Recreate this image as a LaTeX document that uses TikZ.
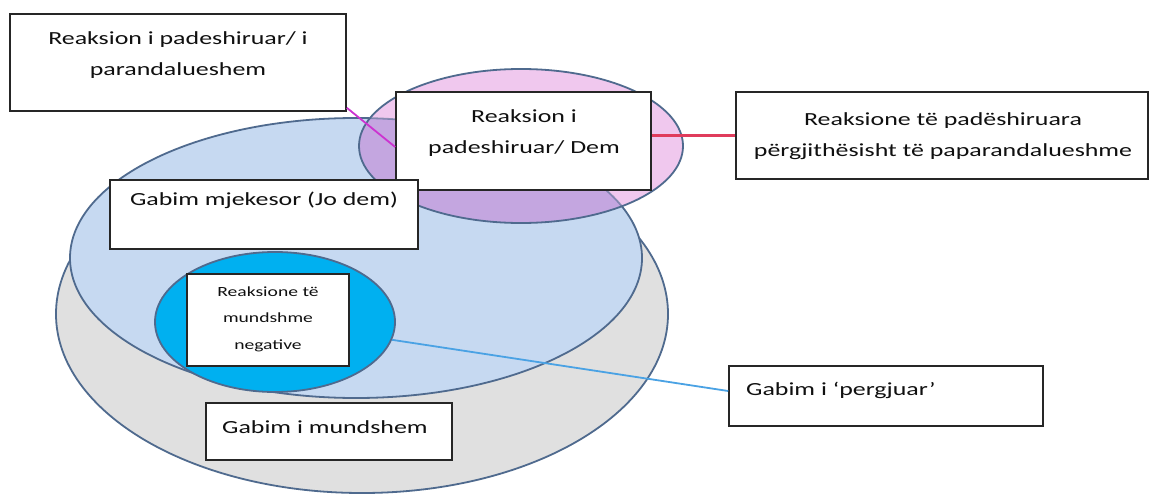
\documentclass[tikz,border=0pt]{standalone}
\usepackage{fontspec}
\setmainfont{Carlito}[FakeStretch=1.4]
\usetikzlibrary{shapes.geometric,calc}
\definecolor{outl}{HTML}{4F6A8E}
\definecolor{grayfill}{HTML}{E0E0E0}
\definecolor{bluefill}{HTML}{C6D9F1}
\definecolor{cyanfill}{HTML}{00B0F0}
\definecolor{pinkfill}{HTML}{F0C8EE}
\definecolor{purplefill}{HTML}{C4A6E0}
\definecolor{txtc}{HTML}{101010}
\definecolor{magline}{HTML}{CC33D0}
\definecolor{redline}{HTML}{E03C5C}
\definecolor{blueline}{HTML}{4AA2E4}
\begin{document}
\begin{tikzpicture}[x=1pt,y=-1pt]
\tikzset{
  venn/.style={ellipse, draw=outl, line width=1.8pt, inner sep=0},
  box/.style={rectangle, draw=black!85, line width=1.6pt, fill=white, inner sep=0},
  lbl/.style={font=\fontsize{18.5}{31}\selectfont, align=center, inner sep=0, text=txtc},
  small/.style={font=\fontsize{14}{26.5}\selectfont, align=center, inner sep=0, text=txtc},
  link/.style={line width=1.8pt}
}
\useasboundingbox (0,0) rectangle (1150,495);
\fill[white] (0,0) rectangle (1150,495);
% ellipses
\node[venn, fill=grayfill, minimum width=612, minimum height=358] (gray) at (362,314) {};
\node[venn, fill=bluefill, minimum width=572, minimum height=280] (blue) at (356,258) {};
\node[venn, fill=cyanfill, minimum width=240, minimum height=140] (cyan) at (275,322) {};
\node[ellipse, fill=pinkfill, minimum width=324, minimum height=154, inner sep=0] (pink) at (521,146) {};
\begin{scope}
  \clip (356,258) ellipse [x radius=286, y radius=140];
  \fill[purplefill] (521,146) ellipse [x radius=162, y radius=77];
\end{scope}
\begin{scope}
  \clip (521,146) ellipse [x radius=162, y radius=77];
  \draw[outl, line width=1.8pt, opacity=0.6] (356,258) ellipse [x radius=286, y radius=140];
\end{scope}
\draw[outl, line width=1.8pt] (521,146) ellipse [x radius=162, y radius=77];
% boxes
\node[box, minimum width=336, minimum height=97] (b1) at (178,62.5) {};
\node[box, minimum width=255, minimum height=98] (b2) at (523.5,141) {};
\node[box, minimum width=412, minimum height=87] (b3) at (942,135.5) {};
\node[box, minimum width=308, minimum height=69] (b4) at (264,214.5) {};
\node[box, minimum width=162, minimum height=92] (b5) at (268,320) {};
\node[box, minimum width=246, minimum height=57] (b6) at (329,431.5) {};
\node[box, minimum width=314, minimum height=60] (b7) at (886,396) {};
% texts
\node[lbl] (t1) at (178,55) {Reaksion i padeshiruar/ i\\parandalueshem};
\node[lbl] (t2) at (524,133.5) {Reaksion i\\padeshiruar/ Dem};
\node[lbl] (t3) at (943,136) {Reaksione të padëshiruara\\përgjithësisht të paparandalueshme};
\node[lbl] (t4) at (264,200) {Gabim mjekesor (Jo dem)};
\node[small] (t5) at (268,319) {Reaksione të\\mundshme\\negative};
\node[lbl, anchor=west] (t6) at (222,427) {Gabim i mundshem};
\node[lbl, anchor=west] (t7) at (746,390) {Gabim i ‘pergjuar’};
% connectors
\draw[link, magline] ($(b1.south east)+(0,-4)$) -- ($(b2.west)+(0,6)$);
\draw[link, redline, line width=2.2pt] (b3.west -| b2.east) -- (b3.west);
\draw[link, blueline] (cyan) -- ($(b7.west)+(0,-5)$);
\end{tikzpicture}
\end{document}
